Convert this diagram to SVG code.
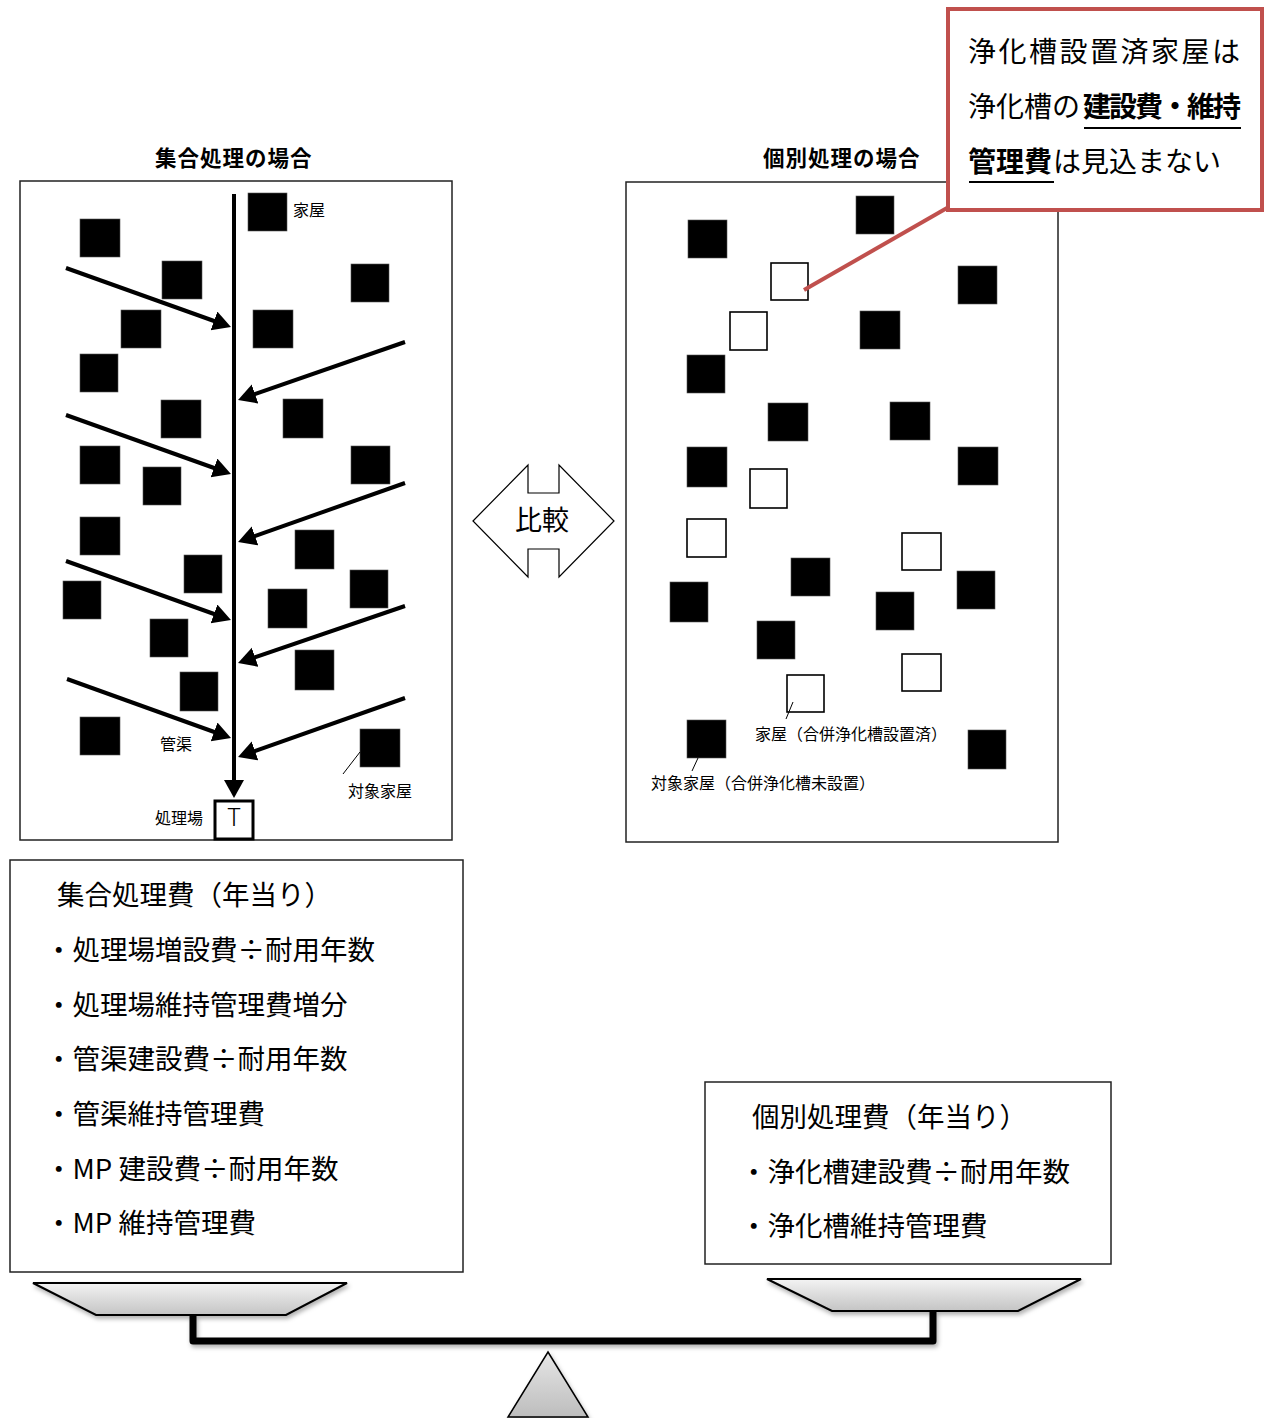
<svg xmlns="http://www.w3.org/2000/svg" width="1273" height="1418" viewBox="0 0 1273 1418">
<style>
text{font-family:"Noto Sans CJK JP","Noto Sans",sans-serif;fill:#000}
.frame{fill:#fff;stroke:#222;stroke-width:1.5}
.h{fill:#000;stroke:#555;stroke-width:0.6}
.o{fill:#fff;stroke:#000;stroke-width:1.6}
.pipe{stroke:#000;stroke-width:4;fill:none}
.thin{stroke:#000;stroke-width:1;fill:none}
.title{font-size:21.5px;font-weight:bold;letter-spacing:1px}
.lab{font-size:16px}
.lab2{font-size:16px}
.cl{font-size:28px}
.body{font-size:27.5px}
.pan{stroke:#000;stroke-width:2;fill:url(#g1)}
</style>
<defs>
<marker id="ah" markerUnits="userSpaceOnUse" markerWidth="20" markerHeight="22" refX="12" refY="10" orient="auto">
<path d="M0,0 L18,10 L0,20 z" fill="#000"/>
</marker>
<linearGradient id="g1" x1="0" y1="0" x2="0" y2="1">
<stop offset="0" stop-color="#f3f3f3"/>
<stop offset="1" stop-color="#c4c4c4"/>
</linearGradient>
<linearGradient id="g2" x1="0" y1="0" x2="0" y2="1">
<stop offset="0" stop-color="#e6e6e6"/>
<stop offset="1" stop-color="#bdbdbd"/>
</linearGradient>
<filter id="sh" x="-10%" y="-30%" width="120%" height="180%">
<feDropShadow dx="1.5" dy="3" stdDeviation="2" flood-color="#000" flood-opacity="0.3"/>
</filter>
</defs>
<rect width="1273" height="1418" fill="#fff"/>

<!-- Left panel: collective treatment -->
<g id="left-panel">
<text class="title" x="155" y="166">集合処理の場合</text>
<rect class="frame" x="20" y="181" width="432" height="659"/>
</g>
<g id="left-houses">
<rect class="h" x="248" y="193" width="39" height="38"/>
<rect class="h" x="80" y="219" width="40" height="38"/>
<rect class="h" x="162" y="261" width="40" height="38"/>
<rect class="h" x="351" y="264" width="38" height="38"/>
<rect class="h" x="121" y="310" width="40" height="38"/>
<rect class="h" x="253" y="310" width="40" height="38"/>
<rect class="h" x="80" y="354" width="38" height="38"/>
<rect class="h" x="161" y="400" width="40" height="38"/>
<rect class="h" x="283" y="399" width="40" height="39"/>
<rect class="h" x="80" y="446" width="40" height="38"/>
<rect class="h" x="351" y="446" width="39" height="38"/>
<rect class="h" x="143" y="467" width="38" height="38"/>
<rect class="h" x="80" y="517" width="40" height="38"/>
<rect class="h" x="295" y="530" width="39" height="39"/>
<rect class="h" x="184" y="555" width="38" height="38"/>
<rect class="h" x="350" y="570" width="38" height="38"/>
<rect class="h" x="63" y="581" width="38" height="38"/>
<rect class="h" x="268" y="589" width="39" height="39"/>
<rect class="h" x="150" y="619" width="38" height="38"/>
<rect class="h" x="295" y="650" width="39" height="40"/>
<rect class="h" x="180" y="672" width="38" height="39"/>
<rect class="h" x="80" y="717" width="40" height="38"/>
<rect class="h" x="360" y="729" width="40" height="38"/>
</g>
<g id="treatment-plant">
<rect x="215" y="801" width="38" height="38" fill="#fff" stroke="#000" stroke-width="3"/>
<text x="234" y="826" font-size="24" text-anchor="middle" font-family="Noto Sans, sans-serif" font-weight="300">T</text>
</g>
<g id="left-labels">
<text class="lab" x="293" y="216">家屋</text>
<text class="lab" x="160" y="750">管渠</text>
<text class="lab" x="348" y="797">対象家屋</text>
<text class="lab" x="155" y="824">処理場</text>
</g>

<!-- Right panel: individual treatment -->
<g id="right-panel">
<text class="title" x="763" y="166">個別処理の場合</text>
<rect class="frame" x="626" y="182" width="432" height="660"/>
</g>
<g id="right-houses">
<rect class="h" x="856" y="196" width="38" height="38"/>
<rect class="h" x="688" y="220" width="39" height="38"/>
<rect class="o" x="771" y="263" width="37" height="37"/>
<rect class="h" x="958" y="266" width="39" height="38"/>
<rect class="o" x="730" y="312" width="37" height="38"/>
<rect class="h" x="860" y="311" width="40" height="38"/>
<rect class="h" x="687" y="355" width="38" height="38"/>
<rect class="h" x="768" y="403" width="40" height="38"/>
<rect class="h" x="890" y="402" width="40" height="38"/>
<rect class="h" x="687" y="447" width="40" height="40"/>
<rect class="h" x="958" y="447" width="40" height="38"/>
<rect class="o" x="750" y="469" width="37" height="39"/>
<rect class="o" x="687" y="519" width="39" height="38"/>
<rect class="o" x="902" y="533" width="39" height="37"/>
<rect class="h" x="791" y="558" width="39" height="38"/>
<rect class="h" x="957" y="571" width="38" height="38"/>
<rect class="h" x="670" y="582" width="38" height="40"/>
<rect class="h" x="876" y="592" width="38" height="38"/>
<rect class="h" x="757" y="621" width="38" height="38"/>
<rect class="o" x="902" y="654" width="39" height="37"/>
<rect class="o" x="787" y="675" width="37" height="37"/>
<rect class="h" x="687" y="720" width="39" height="38"/>
<rect class="h" x="968" y="730" width="38" height="39"/>
</g>
<g id="right-labels">
<text class="lab2" x="755" y="740">家屋（合併浄化槽設置済）</text>
<text class="lab2" x="651" y="789">対象家屋（合併浄化槽未設置）</text>
</g>

<!-- Compare arrow -->
<g id="compare">
<polygon points="473,521 528,465 528,493 559,493 559,465 614,521 559,577 559,549 528,549 528,577" fill="#fff" stroke="#000" stroke-width="1.2"/>
<text x="542" y="530" font-size="27" text-anchor="middle">比較</text>
</g>

<!-- Connectors -->
<g id="connectors">
<line class="pipe" x1="234" y1="194" x2="234" y2="792" marker-end="url(#ah)"/>
<line class="pipe" x1="66" y1="268" x2="225.3" y2="325" marker-end="url(#ah)"/>
<line class="pipe" x1="405" y1="342" x2="243.7" y2="398" marker-end="url(#ah)"/>
<line class="pipe" x1="66" y1="415" x2="225.3" y2="472" marker-end="url(#ah)"/>
<line class="pipe" x1="405" y1="483" x2="243.7" y2="540" marker-end="url(#ah)"/>
<line class="pipe" x1="66" y1="561" x2="225.3" y2="618" marker-end="url(#ah)"/>
<line class="pipe" x1="405" y1="606" x2="243.7" y2="661.1" marker-end="url(#ah)"/>
<line class="pipe" x1="67" y1="679" x2="225.4" y2="736" marker-end="url(#ah)"/>
<line class="pipe" x1="405" y1="698" x2="243.7" y2="755" marker-end="url(#ah)"/>
<line class="thin" x1="360" y1="752" x2="343" y2="774"/>
<line class="thin" x1="793" y1="702" x2="786" y2="719"/>
<line class="thin" x1="698" y1="758" x2="692" y2="771"/>
<line x1="804" y1="290" x2="947" y2="208" stroke="#C0504D" stroke-width="4"/>
</g>

<!-- Callout -->
<g id="callout">
<rect x="948" y="9" width="314" height="201" fill="#fff" stroke="#C0504D" stroke-width="4"/>
<text class="cl" x="968" y="62" letter-spacing="2.5">浄化槽設置済家屋は</text>
<text class="cl" y="117"><tspan x="968">浄化槽の</tspan><tspan x="1083" font-weight="bold" letter-spacing="-2">建設費・維持</tspan></text>
<text class="cl" y="172"><tspan x="968" font-weight="bold">管理費</tspan><tspan x="1053">は見込まない</tspan></text>
<line x1="1084" y1="128" x2="1241" y2="128" stroke="#000" stroke-width="2"/>
<line x1="969" y1="182" x2="1054" y2="182" stroke="#000" stroke-width="2"/>
</g>

<!-- Cost boxes -->
<g id="collective-cost">
<rect class="frame" x="10" y="860" width="453" height="412"/>
<text class="body" x="57" y="905">集合処理費（年当り）</text>
<text class="body" x="45" y="960">・処理場増設費÷耐用年数</text>
<text class="body" x="45" y="1015">・処理場維持管理費増分</text>
<text class="body" x="45" y="1069">・管渠建設費÷耐用年数</text>
<text class="body" x="45" y="1124">・管渠維持管理費</text>
<text class="body" x="45" y="1179">・MP 建設費÷耐用年数</text>
<text class="body" x="45" y="1233">・MP 維持管理費</text>
</g>
<g id="individual-cost">
<rect class="frame" x="705" y="1082" width="406" height="182"/>
<text class="body" x="752" y="1127">個別処理費（年当り）</text>
<text class="body" x="740" y="1182">・浄化槽建設費÷耐用年数</text>
<text class="body" x="740" y="1236">・浄化槽維持管理費</text>
</g>

<!-- Balance -->
<g id="balance" filter="url(#sh)">
<path d="M193,1314 V1341 H933 V1311" fill="none" stroke="#000" stroke-width="7" stroke-linejoin="round"/>
<polygon class="pan" points="33,1283 347,1283 286,1315 96,1315"/>
<polygon class="pan" points="767,1279 1081,1279 1018,1311 832,1311"/>
<polygon points="548,1352 588,1417 508,1417" fill="url(#g2)" stroke="#000" stroke-width="1.5"/>
</g>
</svg>
